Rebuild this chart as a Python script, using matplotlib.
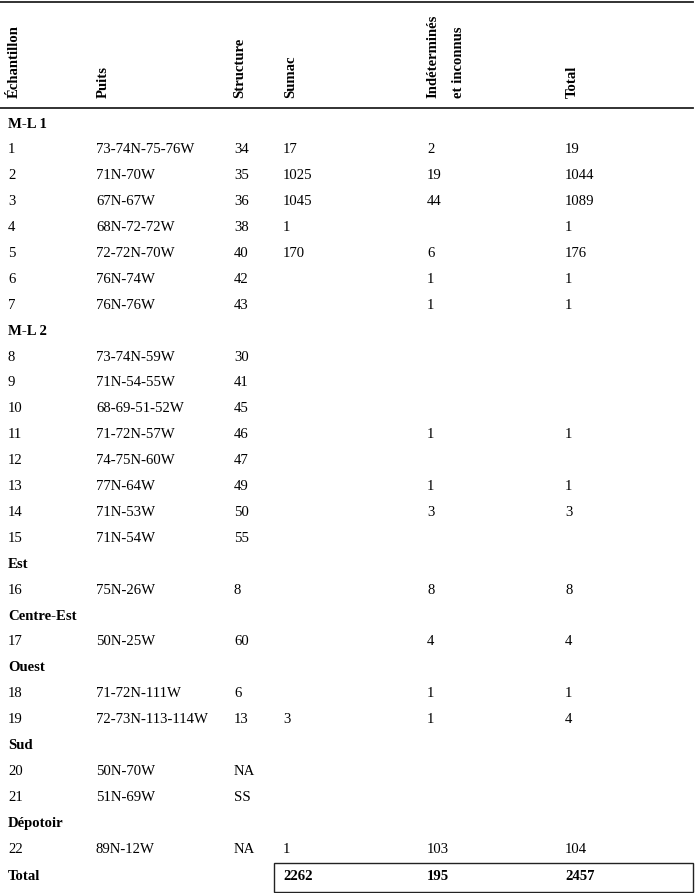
import matplotlib
matplotlib.use('Agg')
import matplotlib.pyplot as plt

plt.rcParams['font.family'] = ['Liberation Serif', 'DejaVu Serif']

# en-têtes de colonnes
headers = ['Échantillon', 'Puits', 'Structure', 'Sumac', 'Indéterminés\net inconnus', 'Total']

# groupes (premier échantillon de chaque groupe)
groups = ['M-L 1', 'M-L 2', 'Est', 'Centre-Est', 'Ouest', 'Sud', 'Dépotoir']
group_start = ['1', '8', '16', '17', '18', '20', '22']

echantillon = [str(i) for i in range(1, 23)]
puits = ['73-74N-75-76W', '71N-70W', '67N-67W', '68N-72-72W', '72-72N-70W', '76N-74W', '76N-76W',
         '73-74N-59W', '71N-54-55W', '68-69-51-52W', '71-72N-57W', '74-75N-60W', '77N-64W',
         '71N-53W', '71N-54W', '75N-26W', '50N-25W', '71-72N-111W', '72-73N-113-114W',
         '50N-70W', '51N-69W', '89N-12W']
structure = ['34', '35', '36', '38', '40', '42', '43', '30', '41', '45', '46', '47', '49', '50',
             '55', '8', '60', '6', '13', 'NA', 'SS', 'NA']
sumac = ['17', '1025', '1045', '1', '170', '', '', '', '', '', '', '', '', '', '', '', '', '',
         '3', '', '', '1']
indet = ['2', '19', '44', '', '6', '1', '1', '', '', '', '1', '', '1', '3', '', '8', '4', '1',
         '1', '', '', '103']
total = ['19', '1044', '1089', '1', '176', '1', '1', '', '', '', '1', '', '1', '3', '', '8', '4',
         '1', '4', '', '', '104']
totaux = ['2262', '195', '2457']

W, H = 699, 893
fig = plt.figure(figsize=(W / 100, H / 100), dpi=100)
ax = fig.add_axes([0, 0, 1, 1])
ax.set_xlim(0, W)
ax.set_ylim(H, 0)
ax.axis('off')

fs = 10.6
col_x = [8, 96, 234, 283, 427, 565]
head_x = [14, 103, 240, 291, None, 572]

# lignes horizontales
ax.plot([0, 693], [2, 2], color='#222222', lw=1.3)
ax.plot([0, 693], [108, 108], color='#222222', lw=1.3)

# en-têtes verticaux
for i, h in enumerate(headers):
    if i == 4:
        l1, l2 = h.split('\n')
        ax.text(433, 98, l1, rotation=90, ha='center', va='bottom', fontsize=fs, fontweight='bold')
        ax.text(458, 98, l2, rotation=90, ha='center', va='bottom', fontsize=fs, fontweight='bold')
    else:
        ax.text(head_x[i], 98, h, rotation=90, ha='center', va='bottom', fontsize=fs, fontweight='bold')

# corps du tableau
y = 124
step = 25.9
for k in range(len(echantillon)):
    if echantillon[k] in group_start:
        ax.text(col_x[0], y, groups[group_start.index(echantillon[k])], ha='left', va='center',
                fontsize=fs, fontweight='bold')
        y += step
    vals = [echantillon[k], puits[k], structure[k], sumac[k], indet[k], total[k]]
    for x, v in zip(col_x, vals):
        ax.text(x, y, v, ha='left', va='center', fontsize=fs)
    y += step

# ligne des totaux
yt = y + 1
ax.text(col_x[0], yt, 'Total', ha='left', va='center', fontsize=fs, fontweight='bold')
for x, v in zip(col_x[3:], totaux):
    ax.text(x, yt, v, ha='left', va='center', fontsize=fs, fontweight='bold')
ax.add_patch(plt.Rectangle((274, 863), 419, 29, fill=False, ec='#222222', lw=1.0))

fig.savefig('out.png', dpi=100)
